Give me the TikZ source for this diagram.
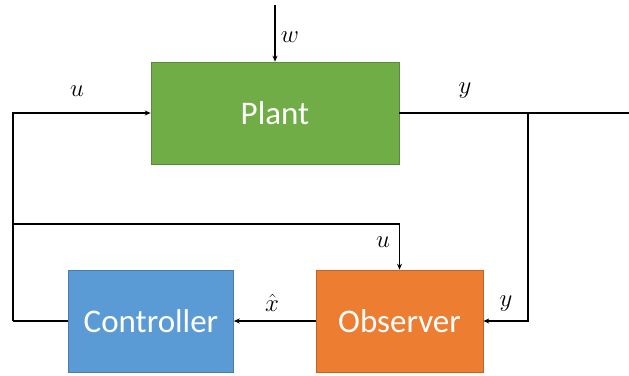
\documentclass[tikz,border=0pt]{standalone}
\usepackage{fontspec}
\setmainfont{Carlito}
\usetikzlibrary{arrows.meta}
\definecolor{plantc}{HTML}{70AD47}
\definecolor{ctrlc}{HTML}{5B9BD5}
\definecolor{obsc}{HTML}{ED7D31}
\begin{document}
\begin{tikzpicture}[x=1pt,y=-1pt,
  blk/.style={draw=#1!80!black, line width=0.6pt, fill=#1, text=white, inner sep=0pt,
    font=\fontsize{33}{33}\selectfont},
  conn/.style={line width=1.4pt, draw=black},
  arr/.style={conn, -{Stealth[length=6pt,width=5pt]}},
  lbl/.style={font=\fontsize{24}{24}\selectfont, inner sep=0pt}]
\useasboundingbox (0,0) rectangle (629,375);
\node[blk=plantc, minimum width=248pt, minimum height=102pt] (plant) at (275,113) {Plant};
\node[blk=ctrlc, minimum width=165pt, minimum height=102pt] (ctrl) at (151,321) {Controller};
\node[blk=obsc, minimum width=167pt, minimum height=102pt] (obs) at (399.5,321) {Observer};
\coordinate (wtop) at (275,5);
\coordinate (yout) at (629,113);
\coordinate (br) at (528,113);
\coordinate (brd) at (528,321);
\coordinate (lt) at (13,113);
\coordinate (lb) at (13,321);
\coordinate (lm) at (13,224);
\coordinate (om) at (399.5,224);
\draw[arr] (wtop) -- (plant.north);
\draw[arr] (lb) -- (lt) -- (plant.west);
\draw[conn] (ctrl.west) -- (lb);
\draw[conn] (plant.east) -- (yout);
\draw[arr] (br) -- (brd) -- (obs.east);
\draw[arr] (lm) -- (om) -- (obs.north);
\draw[arr] (obs.west) -- (ctrl.east);
\node[lbl] (lw) at (290,37) {$w$};
\node[lbl] (lu1) at (77,91) {$u$};
\node[lbl] (ly1) at (465,91) {$y$};
\node[lbl] (lu2) at (383,242) {$u$};
\node[lbl] (lx) at (272,303) {$\hat{x}$};
\node[lbl] (ly2) at (506,304) {$y$};
\end{tikzpicture}
\end{document}
